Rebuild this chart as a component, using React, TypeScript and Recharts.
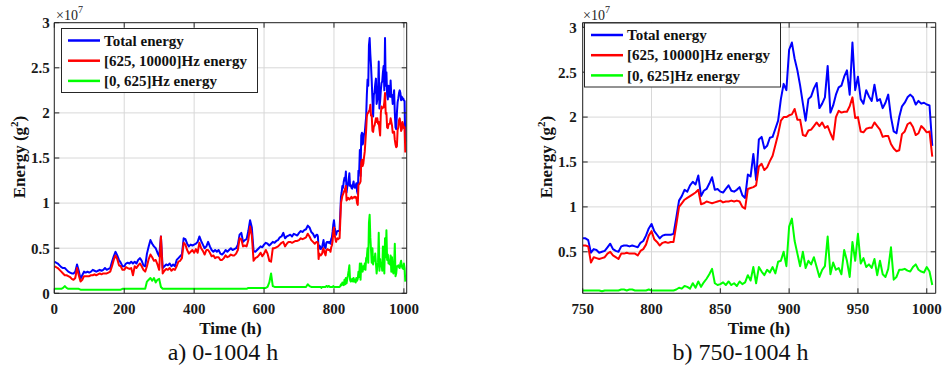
import React from 'react';
import { LineChart, Line, XAxis, YAxis, CartesianGrid } from 'recharts';

// sample times (h): every 5 h up to 745, every 2 h after that
const hoursEarly = [
  0, 5, 10, 15, 20, 25, 30, 35, 40, 45, 50, 55, 60, 65, 70, 75, 80, 85, 90, 95,
  100, 105, 110, 115, 120, 125, 130, 135, 140, 145, 150, 155, 160, 165, 170, 175, 180, 185, 190, 195,
  200, 205, 210, 215, 220, 225, 230, 235, 240, 245, 250, 255, 260, 265, 270, 275, 280, 285, 290, 295,
  300, 305, 310, 315, 320, 325, 330, 335, 340, 345, 350, 355, 360, 365, 370, 375, 380, 385, 390, 395,
  400, 405, 410, 415, 420, 425, 430, 435, 440, 445, 450, 455, 460, 465, 470, 475, 480, 485, 490, 495,
  500, 505, 510, 515, 520, 525, 530, 535, 540, 545, 550, 555, 560, 565, 570, 575, 580, 585, 590, 595,
  600, 605, 610, 615, 620, 625, 630, 635, 640, 645, 650, 655, 660, 665, 670, 675, 680, 685, 690, 695,
  700, 705, 710, 715, 720, 725, 730, 735, 740, 745,
];
const hoursLate = [
  750, 752, 754, 756, 758, 760, 762, 764, 766, 768, 770, 772, 774, 776, 778, 780, 782, 784, 786, 788,
  790, 792, 794, 796, 798, 800, 802, 804, 806, 808, 810, 812, 814, 816, 818, 820, 822, 824, 826, 828,
  830, 832, 834, 836, 838, 840, 842, 844, 846, 848, 850, 852, 854, 856, 858, 860, 862, 864, 866, 868,
  870, 872, 874, 876, 878, 880, 882, 884, 886, 888, 890, 892, 894, 896, 898, 900, 902, 904, 906, 908,
  910, 912, 914, 916, 918, 920, 922, 924, 926, 928, 930, 932, 934, 936, 938, 940, 942, 944, 946, 948,
  950, 952, 954, 956, 958, 960, 962, 964, 966, 968, 970, 972, 974, 976, 978, 980, 982, 984, 986, 988,
  990, 992, 994, 996, 998, 1000, 1002, 1004,
];

// energies in units of 1e7 g^2
const totalEarly = [
  .35, .34, .33, .31, .29, .28, .28, .26, .24, .23, .22, .22, .24, .32, .25, .16, .20, .24, .23, .24,
  .23, .24, .26, .25, .24, .25, .26, .25, .26, .28, .26, .27, .28, .35, .41, .46, .42, .37, .34, .30,
  .30, .33, .34, .33, .35, .33, .35, .33, .37, .39, .36, .31, .30, .44, .52, .59, .55, .52, .50, .45,
  .41, .63, .28, .30, .32, .31, .33, .30, .32, .30, .37, .39, .41, .43, .61, .60, .55, .52, .54, .53,
  .54, .55, .57, .63, .58, .54, .50, .52, .57, .52, .48, .46, .48, .46, .48, .44, .43, .45, .48, .46,
  .48, .50, .48, .49, .50, .54, .65, .67, .57, .59, .60, .69, .81, .73, .47, .46, .48, .50, .52, .51,
  .54, .56, .55, .53, .55, .57, .56, .58, .59, .62, .63, .67, .61, .63, .64, .65, .63, .66, .65, .64,
  .67, .69, .68, .70, .71, .75, .73, .68, .66, .62,
];
const totalLate = [
  .65, .65, .63, .49, .53, .52, .49, .50, .51, .55, .59, .53, .51, .50, .56, .57, .57, .56, .57, .56,
  .55, .60, .62, .68, .76, .81, .73, .69, .65, .68, .69, .69, .69, .70, .88, 1.07, 1.12, 1.19, 1.17, 1.24,
  1.28, 1.25, 1.35, 1.12, 1.18, 1.20, 1.26, 1.33, 1.19, 1.20, 1.17, 1.16, 1.20, 1.24, 1.18, 1.17, 1.19, 1.22, 1.13, 1.10,
  1.36, 1.34, 1.59, 1.30, 1.75, 1.78, 1.65, 1.68, 1.77, 1.78, 1.87, 1.96, 2.20, 2.37, 2.30, 2.75, 2.83, 2.65, 2.52, 2.35,
  2.15, 1.96, 2.20, 2.23, 2.32, 2.38, 2.10, 2.15, 2.22, 2.57, 2.05, 2.13, 2.25, 2.33, 2.35, 2.45, 2.52, 2.25, 2.83, 2.30,
  2.45, 2.20, 2.15, 2.30, 2.23, 2.18, 2.36, 2.18, 2.20, 2.10, 2.16, 2.25, 2.00, 1.84, 1.82, 2.00, 2.12, 2.16, 2.22, 2.25,
  2.22, 2.14, 2.18, 2.15, 2.16, 2.14, 2.13, 1.68,
];

const highEarly = [
  .30, .29, .28, .26, .24, .22, .20, .20, .19, .18, .16, .15, .17, .28, .20, .13, .15, .19, .19, .19,
  .19, .20, .20, .21, .20, .21, .22, .21, .22, .22, .22, .23, .24, .30, .37, .42, .38, .31, .30, .26,
  .26, .29, .28, .27, .28, .20, .30, .28, .31, .33, .30, .26, .24, .30, .38, .43, .40, .36, .37, .32,
  .26, .63, .22, .25, .27, .26, .28, .25, .27, .26, .30, .35, .36, .39, .56, .54, .48, .44, .46, .48,
  .45, .49, .45, .56, .50, .47, .43, .48, .48, .45, .41, .42, .39, .40, .40, .37, .37, .39, .42, .40,
  .41, .43, .42, .42, .44, .48, .61, .60, .52, .53, .52, .59, .74, .64, .36, .39, .40, .42, .45, .41,
  .44, .48, .44, .36, .35, .50, .50, .51, .52, .54, .56, .57, .52, .55, .57, .57, .56, .57, .58, .58,
  .59, .61, .60, .61, .62, .66, .63, .59, .57, .55,
];
const highLate = [
  .57, .57, .56, .38, .44, .43, .42, .43, .44, .48, .50, .46, .44, .42, .48, .48, .49, .48, .48, .48,
  .46, .51, .53, .58, .68, .73, .64, .61, .57, .60, .61, .60, .61, .61, .80, 1.00, 1.04, 1.08, 1.10, 1.12,
  1.14, 1.16, 1.19, 1.03, 1.04, 1.06, 1.05, 1.04, 1.05, 1.06, 1.07, 1.05, 1.06, 1.06, 1.07, 1.06, 1.07, 1.06, 1.00, 0.98,
  1.20, 1.21, 1.22, 1.24, 1.45, 1.48, 1.41, 1.44, 1.51, 1.57, 1.69, 1.81, 1.96, 2.00, 2.00, 2.02, 2.03, 2.09, 1.97, 1.97,
  1.80, 1.79, 1.85, 1.86, 1.90, 1.94, 1.90, 1.94, 1.88, 1.90, 1.82, 1.75, 2.00, 2.07, 2.05, 2.06, 2.06, 2.12, 2.22, 1.99,
  2.00, 1.84, 1.83, 1.87, 1.88, 1.88, 1.94, 1.90, 1.86, 1.78, 1.79, 1.79, 1.70, 1.65, 1.62, 1.63, 1.81, 1.84, 1.92, 1.94,
  1.89, 1.80, 1.82, 1.90, 1.87, 1.83, 1.84, 1.56,
];

const lowEarly = [
  .05, .05, .05, .05, .05, .06, .08, .06, .05, .05, .05, .05, .05, .05, .05, .04, .04, .04, .04, .04,
  .04, .04, .04, .04, .04, .04, .04, .04, .04, .04, .04, .04, .04, .04, .04, .04, .04, .04, .04, .05,
  .05, .05, .05, .05, .05, .05, .05, .05, .05, .05, .05, .05, .05, .13, .15, .17, .14, .17, .12, .15,
  .16, .07, .05, .05, .05, .05, .05, .05, .05, .05, .05, .05, .05, .05, .05, .05, .05, .05, .05, .05,
  .05, .05, .05, .05, .05, .05, .05, .05, .05, .05, .05, .05, .05, .05, .05, .05, .05, .05, .05, .05,
  .05, .05, .05, .05, .05, .05, .05, .05, .05, .05, .05, .06, .06, .06, .06, .06, .06, .06, .06, .06,
  .06, .06, .07, .12, .22, .08, .07, .07, .07, .07, .07, .07, .07, .07, .07, .07, .07, .07, .07, .07,
  .07, .07, .07, .07, .07, .10, .08, .07, .07, .07,
];
const lowLate = [
  .07, .07, .07, .07, .07, .07, .07, .06, .07, .07, .07, .07, .07, .07, .08, .08, .07, .08, .08, .07,
  .07, .07, .07, .07, .08, .07, .07, .07, .07, .07, .07, .07, .07, .07, .08, .10, .09, .12, .11, .09,
  .15, .10, .17, .11, .16, .20, .25, .31, .15, .13, .14, .16, .13, .17, .13, .15, .12, .17, .14, .16,
  .24, .18, .33, .15, .33, .28, .24, .30, .27, .33, .26, .39, .40, .50, .34, .78, .87, .62, .48, .34,
  .50, .32, .40, .36, .44, .33, .22, .30, .34, .67, .25, .38, .30, .32, .25, .52, .40, .22, .61, .40,
  .70, .37, .43, .33, .36, .32, .42, .24, .40, .25, .22, .31, .55, .19, .22, .30, .30, .31, .29, .28,
  .33, .36, .30, .28, .27, .33, .28, .13,
];

const hours = [...hoursEarly, ...hoursLate];
const totalEnergy = [...totalEarly, ...totalLate];
const highEnergy = [...highEarly, ...highLate];
const lowEnergy = [...lowEarly, ...lowLate];

const legendNames = ['Total energy', '[625, 10000]Hz energy', '[0, 625]Hz energy'];
const lineColors = ['#0000ff', '#ff0000', '#00ff00'];

const rows = hours.map((h, i) => ({
  h,
  total: totalEnergy[i],
  high: highEnergy[i],
  low: lowEnergy[i],
}));

const FONT = '"Liberation Serif", "Times New Roman", Times, serif';
const AX = '#262626';
const tickStyle = { fill: '#1a1a1a', fontSize: 15, fontWeight: 700, fontFamily: FONT };

type PanelProps = {
  left: number;
  width: number;
  data: typeof rows;
  xDomain: [number, number];
  xTicks: number[];
  yDomain: [number, number];
  yTicks: number[];
  yAxisWidth: number;
  rightGap: number;
  yTickMargin: number;
};

const Panel = ({ left, width, data, xDomain, xTicks, yDomain, yTicks, yAxisWidth, rightGap, yTickMargin }: PanelProps) => (
  <div style={{ position: 'absolute', left, top: 0, width, height: 365 }}>
    <LineChart
      width={width}
      height={365}
      data={data}
      margin={{ top: 21.7, right: rightGap - 1, bottom: 41.7, left: 0 }}
    >
      <CartesianGrid xAxisId="b" yAxisId="l" stroke="#d8d8d8" strokeWidth={1} />
      <XAxis
        xAxisId="b" dataKey="h" type="number" domain={xDomain} ticks={xTicks}
        allowDataOverflow interval={0} height={30} tickSize={-5} tickMargin={15}
        stroke={AX} tick={tickStyle}
      />
      <XAxis
        xAxisId="t" orientation="top" dataKey="h" type="number" domain={xDomain} ticks={xTicks}
        allowDataOverflow interval={0} height={1} tickSize={-5} stroke={AX}
        tickFormatter={() => ''}
      />
      <YAxis
        yAxisId="l" type="number" domain={yDomain} ticks={yTicks} allowDataOverflow interval={0}
        width={yAxisWidth} tickSize={-5} tickMargin={yTickMargin} stroke={AX} tick={tickStyle}
        tickFormatter={(v: number) => String(v)}
      />
      <YAxis
        yAxisId="r" orientation="right" type="number" domain={yDomain} ticks={yTicks}
        allowDataOverflow interval={0} width={1} tickSize={-5} stroke={AX}
        tickFormatter={() => ''}
      />
      <Line xAxisId="b" yAxisId="l" type="linear" dataKey="total" stroke={lineColors[0]} strokeWidth={2}
        dot={false} isAnimationActive={false} strokeLinejoin="round" />
      <Line xAxisId="b" yAxisId="l" type="linear" dataKey="high" stroke={lineColors[1]} strokeWidth={2}
        dot={false} isAnimationActive={false} strokeLinejoin="round" />
      <Line xAxisId="b" yAxisId="l" type="linear" dataKey="low" stroke={lineColors[2]} strokeWidth={2}
        dot={false} isAnimationActive={false} strokeLinejoin="round" />
    </LineChart>
  </div>
);

const LegendBox = ({ x, y }: { x: number; y: number }) => (
  <g transform={`translate(${x},${y})`}>
    <rect x={0.5} y={0.5} width={196} height={64} fill="#fff" stroke={AX} strokeWidth={1} />
    {legendNames.map((name, i) => (
      <g key={name}>
        <line x1={7} x2={39} y1={12.5 + i * 20.2} y2={12.5 + i * 20.2} stroke={lineColors[i]} strokeWidth={2.5} />
        <text x={43} y={12.5 + i * 20.2} dy="0.35em" fontFamily={FONT} fontSize={15} fontWeight={700} fill="#111">
          {name}
        </text>
      </g>
    ))}
  </g>
);

const Labels = () => (
  <svg width={946} height={365} style={{ position: 'absolute', left: 0, top: 0, pointerEvents: 'none' }}>
    <LegendBox x={61} y={28} />
    <LegendBox x={584} y={22.5} />

    <text x={56} y={19.5} fontFamily={FONT} fontSize={14} fill="#262626">
      ×10<tspan fontSize={10} dy={-7}>7</tspan>
    </text>
    <text x={583} y={19.5} fontFamily={FONT} fontSize={14} fill="#262626">
      ×10<tspan fontSize={10} dy={-7}>7</tspan>
    </text>

    <text x={230.5} y={328} dy="0.35em" textAnchor="middle" fontFamily={FONT} fontSize={17} fontWeight={700} fill="#111">
      Time (h)
    </text>
    <text x={759} y={328} dy="0.35em" textAnchor="middle" fontFamily={FONT} fontSize={17} fontWeight={700} fill="#111">
      Time (h)
    </text>

    <text transform="translate(19,157) rotate(-90)" dy="0.35em" textAnchor="middle" fontFamily={FONT} fontSize={17} fontWeight={700} fill="#111">
      Energy (g<tspan fontSize={11} dy={-7}>2</tspan><tspan dy={7}>)</tspan>
    </text>
    <text transform="translate(546.5,157) rotate(-90)" dy="0.35em" textAnchor="middle" fontFamily={FONT} fontSize={17} fontWeight={700} fill="#111">
      Energy (g<tspan fontSize={11} dy={-7}>2</tspan><tspan dy={7}>)</tspan>
    </text>

    <text x={223} y={352} dy="0.35em" textAnchor="middle" fontFamily={FONT} fontSize={24} fill="#111">
      a) 0-1004 h
    </text>
    <text x={740.5} y={352} dy="0.35em" textAnchor="middle" fontFamily={FONT} fontSize={24} fill="#111">
      b) 750-1004 h
    </text>
  </svg>
);

export default function App() {
  const lateRows = rows.filter((r) => r.h >= 750);
  return (
    <div style={{ position: 'absolute', left: 0, top: 0, width: 946, height: 365, background: '#fff', overflow: 'hidden' }}>
      <Panel
        left={0} width={440} data={rows}
        xDomain={[0, 1008]} xTicks={[0, 200, 400, 600, 800, 1000]}
        yDomain={[0, 3]} yTicks={[0, 0.5, 1, 1.5, 2, 2.5, 3]}
        yAxisWidth={54.3} rightGap={33.3} yTickMargin={9.5}
      />
      <Panel
        left={500} width={446} data={lateRows}
        xDomain={[750, 1006.5]} xTicks={[750, 800, 850, 900, 950, 1000]}
        yDomain={[0.038, 3.051]} yTicks={[0.5, 1, 1.5, 2, 2.5, 3]}
        yAxisWidth={82.7} rightGap={10.3} yTickMargin={11}
      />
      <Labels />
    </div>
  );
}
